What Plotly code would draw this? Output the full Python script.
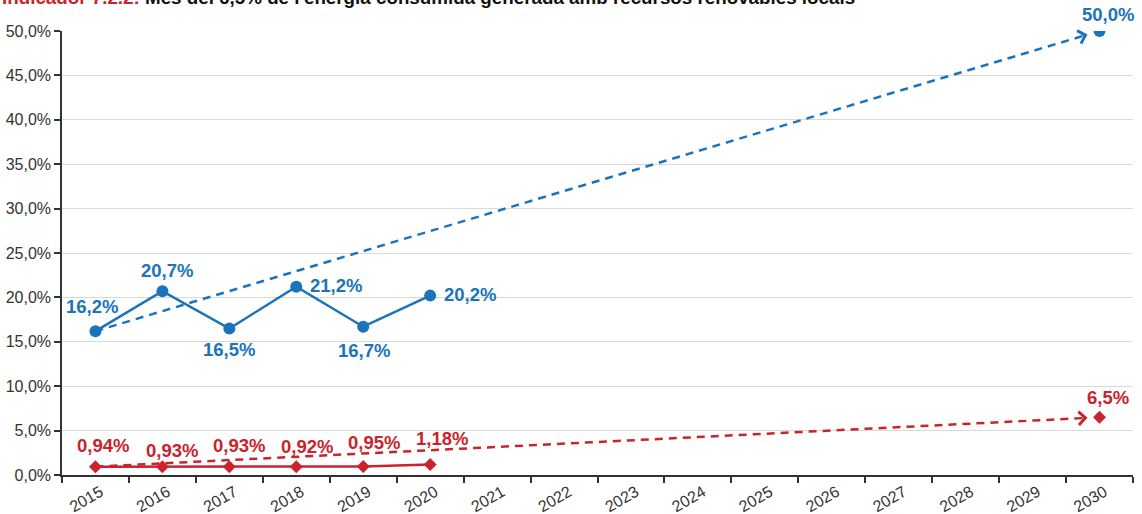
import plotly.graph_objects as go

years = list(range(2015, 2031))
hist_years = [2015, 2016, 2017, 2018, 2019, 2020]
blue_vals = [16.2, 20.7, 16.5, 21.2, 16.7, 20.2]
red_vals = [0.94, 0.93, 0.93, 0.92, 0.95, 1.18]
target_year = 2030
blue_target = 50.0
red_target = 6.5
blue_labels = ["16,2%", "20,7%", "16,5%", "21,2%", "16,7%", "20,2%"]
red_labels = ["0,94%", "0,93%", "0,93%", "0,92%", "0,95%", "1,18%"]
blue_target_label = "50,0%"
red_target_label = "6,5%"
y_ticks = [0, 5, 10, 15, 20, 25, 30, 35, 40, 45, 50]
title_red = "Indicador 7.2.2:"
title_rest = " Més del 6,5% de l'energia consumida generada amb recursos renovables locals"

BLUE = "#1b74bb"
RED = "#c9242c"
FONT = "Liberation Sans, Arial, sans-serif"

fig = go.Figure()

def trend(x0, y0, x1, y1, color):
    f = 0.988
    xe = x0 + (x1 - x0) * f
    ye = y0 + (y1 - y0) * f
    fig.add_trace(go.Scatter(x=[x0, xe], y=[y0, ye], mode="lines",
                             line=dict(color=color, width=2.5, dash="8px,6px"),
                             hoverinfo="skip", showlegend=False))
    fig.add_annotation(x=xe, y=ye, ax=x0 + (x1 - x0) * (f - 0.006), ay=y0 + (y1 - y0) * (f - 0.006),
                       xref="x", yref="y", axref="x", ayref="y", text="",
                       showarrow=True, arrowhead=4, arrowsize=1.3, arrowwidth=2,
                       arrowcolor=color, standoff=0)

trend(hist_years[0], blue_vals[0], target_year, blue_target, BLUE)
trend(hist_years[0], red_vals[0], target_year, red_target, RED)

fig.add_trace(go.Scatter(x=hist_years, y=blue_vals, mode="lines+markers",
                         line=dict(color=BLUE, width=2.5),
                         marker=dict(color=BLUE, size=12, symbol="circle"),
                         showlegend=False))
fig.add_trace(go.Scatter(x=[target_year], y=[blue_target], mode="markers",
                         marker=dict(color=BLUE, size=12, symbol="circle"),
                         showlegend=False))
fig.add_trace(go.Scatter(x=hist_years, y=red_vals, mode="lines+markers",
                         line=dict(color=RED, width=2.5),
                         marker=dict(color=RED, size=10, symbol="diamond"),
                         showlegend=False))
fig.add_trace(go.Scatter(x=[target_year], y=[red_target], mode="markers",
                         marker=dict(color=RED, size=10, symbol="diamond"),
                         showlegend=False))

# label offsets (pixels)
blue_off = [(-3, 25), (5, 21), (0, -21), (40, 1), (1, -24), (40, 1)]
red_off = [(8, 21), (10, 16), (10, 21), (11, 20), (11, 24), (12, 26)]
lab_font = dict(family=FONT, size=18.5, color=BLUE)
for x, y, t, (dx, dy) in zip(hist_years, blue_vals, blue_labels, blue_off):
    fig.add_annotation(x=x, y=y, text="<b>" + t + "</b>", showarrow=False,
                       xshift=dx, yshift=dy, font=lab_font)
fig.add_annotation(x=target_year, y=blue_target, text="<b>" + blue_target_label + "</b>",
                   showarrow=False, xshift=8, yshift=17, font=lab_font)
rfont = dict(family=FONT, size=18.5, color=RED)
for x, y, t, (dx, dy) in zip(hist_years, red_vals, red_labels, red_off):
    fig.add_annotation(x=x, y=y, text="<b>" + t + "</b>", showarrow=False,
                       xshift=dx, yshift=dy, font=rfont)
fig.add_annotation(x=target_year, y=red_target, text="<b>" + red_target_label + "</b>",
                   showarrow=False, xshift=8, yshift=20, font=rfont)

# title (partially cut at top)
fig.add_annotation(xref="paper", yref="paper", x=-0.0575, y=1, xanchor="left", yanchor="bottom",
                   yshift=21, showarrow=False, align="left",
                   text="<b><span style='color:" + RED + "'>" + title_red + "</span>" + title_rest + "</b>",
                   font=dict(family=FONT, size=18.8, color="#111111"))

fig.update_layout(
    width=1142, height=514,
    margin=dict(l=62, r=9, t=31, b=39),
    paper_bgcolor="white", plot_bgcolor="white",
    separators=",.",
    font=dict(family=FONT, size=16, color="#333333"),
    showlegend=False,
)
fig.update_xaxes(range=[2014.5, 2030.5], tickvals=years, ticktext=[str(y) for y in years],
                 tickangle=-30, ticks="", showgrid=False, zeroline=False, automargin=False,
                 ticklabelshift=5,
                 showline=True, linecolor="#333333", linewidth=1.5,
                 tickfont=dict(family=FONT, size=16, color="#333333"),
                 minor=dict(tickvals=[y - 0.5 for y in years] + [years[-1] + 0.5],
                            ticks="outside", ticklen=6, tickcolor="#333333", tickwidth=1.5,
                            showgrid=False))
fig.update_yaxes(range=[0, 50], tickvals=y_ticks, ticktext=[format(v, ".1f").replace(".", ",") + "%" for v in y_ticks],
                 ticks="outside", ticklen=6, tickcolor="#333333", tickwidth=1.5, automargin=False,
                 showgrid=True, gridcolor="#d9d9d9", gridwidth=1, zeroline=False,
                 showline=True, linecolor="#333333", linewidth=1.5,
                 tickfont=dict(family=FONT, size=16, color="#333333"))

fig.write_html("out.html", config={"displayModeBar": False},
               post_script="document.body.style.margin='0';")
